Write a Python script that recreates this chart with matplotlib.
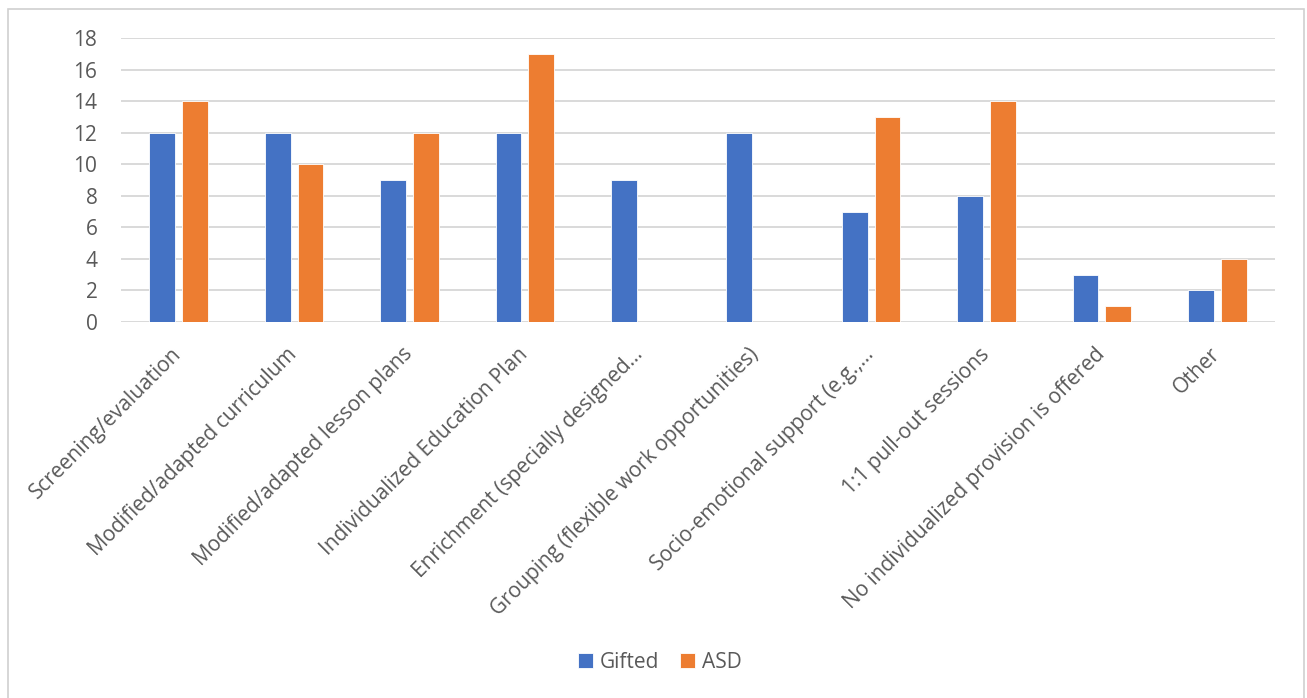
import matplotlib
matplotlib.use("Agg")
import matplotlib.pyplot as plt
import numpy as np
from matplotlib.patches import Rectangle

categories = [
    "Screening/evaluation",
    "Modified/adapted curriculum",
    "Modified/adapted lesson plans",
    "Individualized Education Plan",
    "Enrichment (specially designed…",
    "Grouping (flexible work opportunities)",
    "Socio-emotional support (e.g.,…",
    "1:1 pull-out sessions",
    "No individualized provision is offered",
    "Other",
]
gifted = [12, 12, 9, 12, 9, 12, 7, 8, 3, 2]
asd = [14, 10, 12, 17, 0, 0, 13, 14, 1, 4]
y_ticks = [0, 2, 4, 6, 8, 10, 12, 14, 16, 18]

plt.rcParams["font.family"] = ["Open Sans", "DejaVu Sans"]
text_color = "#595959"
grid_color = "#D9D9D9"
blue = "#4472C4"
orange = "#ED7D31"
fs = 15

W, H = 1307, 698
fig = plt.figure(figsize=(W / 100, H / 100), dpi=100)

# outer chart frame
fig.patches.append(Rectangle((8 / W, -0.01), (1304 - 8) / W, 1 - 9 / H + 0.01,
                             transform=fig.transFigure, fill=False,
                             edgecolor="#D0D0D0", linewidth=1.2))

left, right = 121 / W, 1275 / W
bottom, top = 1 - 322 / H, 1 - 38 / H
ax = fig.add_axes([left, bottom, right - left, top - bottom])

x = np.arange(len(categories))
bw = 0.225
off = 0.142
ax.bar(x - off, gifted, width=bw, color=blue, edgecolor="white",
       linewidth=0.6, label="Gifted", zorder=3)
ax.bar(x + off, asd, width=bw, color=orange, edgecolor="white",
       linewidth=0.6, label="ASD", zorder=3)

ax.set_xlim(-0.5, len(categories) - 0.5)
ax.set_ylim(0, 18)
ax.set_yticks(y_ticks)
ax.yaxis.grid(True, color=grid_color, linewidth=1.4, zorder=0)
ax.set_axisbelow(True)
for s in ax.spines.values():
    s.set_visible(False)
ax.tick_params(axis="both", length=0, colors=text_color, labelsize=fs)
ax.tick_params(axis="y", pad=17)

ax.set_xticks(x)
ax.set_xticklabels([])
for xi, lab in zip(x, categories):
    ax.annotate(lab, xy=(xi, 0), xycoords="data",
                xytext=(0, -21), textcoords="offset points",
                rotation=45, ha="right", va="center",
                rotation_mode="anchor", fontsize=fs, color=text_color)

leg = fig.legend(loc="center", bbox_to_anchor=(660 / W, 1 - 662 / H),
                 ncol=2, frameon=False, fontsize=fs, handlelength=0.7,
                 handleheight=0.7, columnspacing=1.0, handletextpad=0.35)
for t in leg.get_texts():
    t.set_color(text_color)

fig.savefig("out.png", dpi=100, facecolor="white")
